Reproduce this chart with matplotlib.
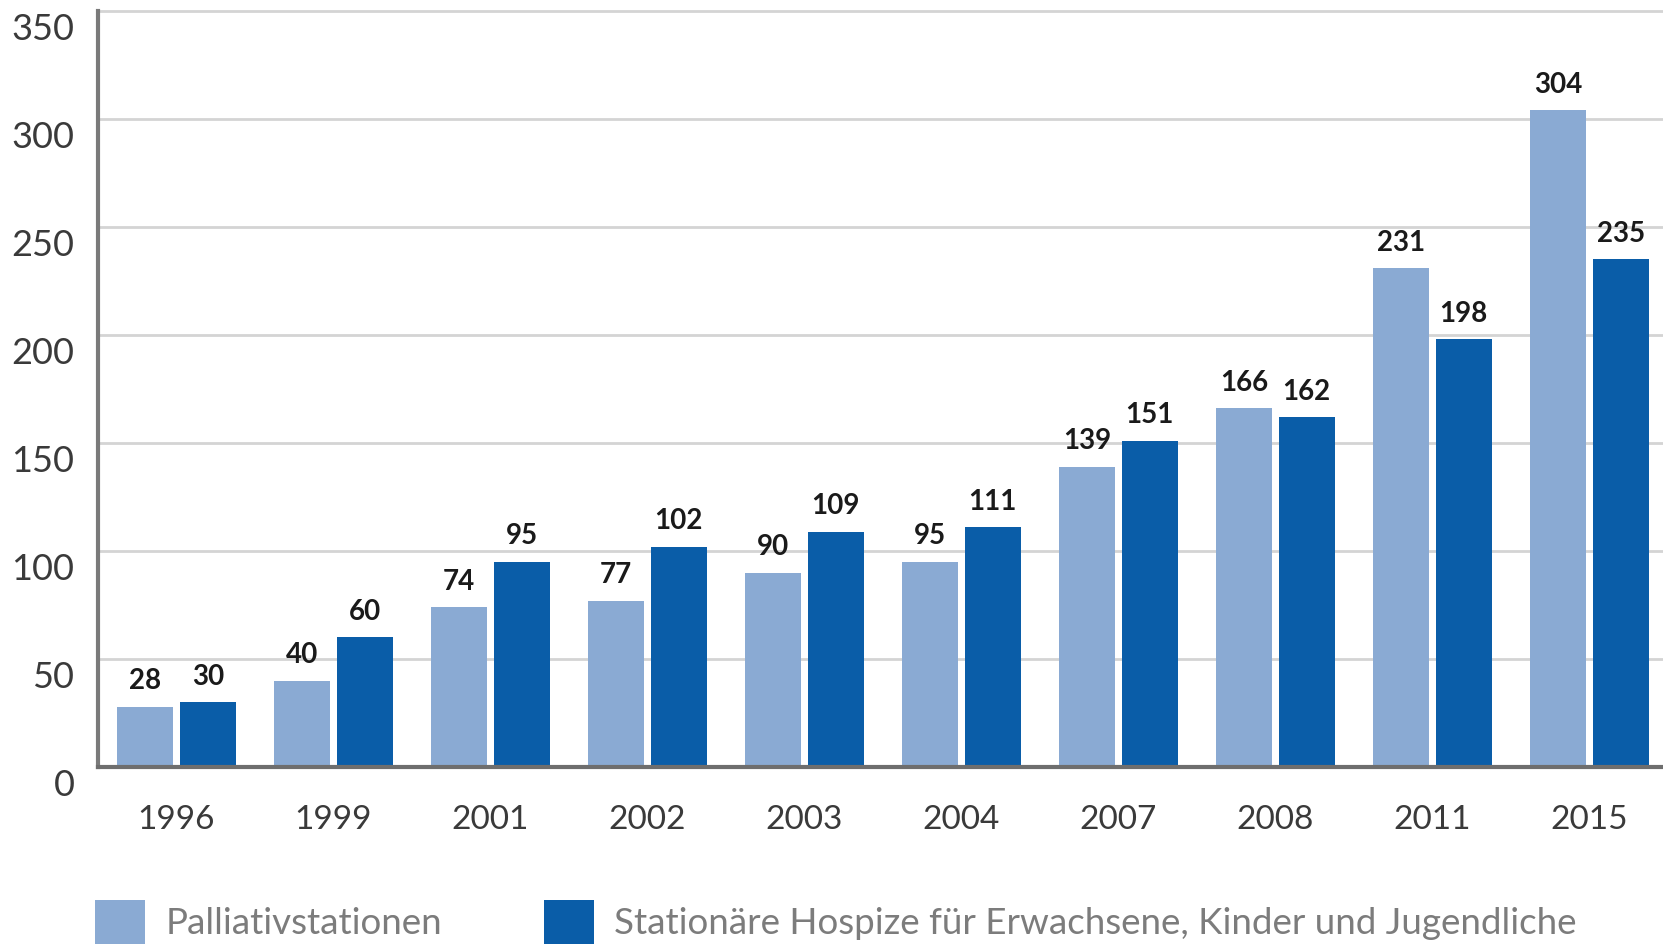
import numpy as np
import matplotlib
matplotlib.use("Agg")
import matplotlib.pyplot as plt
from matplotlib import transforms

# data
years = ["1996", "1999", "2001", "2002", "2003", "2004", "2007", "2008", "2011", "2015"]
palliativ = [28, 40, 74, 77, 90, 95, 139, 166, 231, 304]
hospize = [30, 60, 95, 102, 109, 111, 151, 162, 198, 235]
series_labels = [
    "Palliativstationen",
    "Stationäre Hospize für Erwachsene, Kinder und Jugendliche",
]
yticks = [0, 50, 100, 150, 200, 250, 300, 350]

LIGHT = "#8AAAD3"
DARK = "#0A5DA8"
FONT = ["Lato", "DejaVu Sans"]

plt.rcParams["font.family"] = FONT

fig = plt.figure(figsize=(16.63, 9.47), dpi=100)
ax = fig.add_axes([98 / 1663, 1 - 767 / 947, 1 - 98 / 1663, (767 - 11) / 947])

x = np.arange(len(years))
w = 0.357
off = 0.2
b1 = ax.bar(x - off, palliativ, w, color=LIGHT, zorder=3, label=series_labels[0])
b2 = ax.bar(x + off, hospize, w, color=DARK, zorder=3, label=series_labels[1])

for bars in (b1, b2):
    ax.bar_label(bars, padding=9, fontsize=20, fontweight="bold", color="#1a1a1a")

ax.set_xlim(-0.5, 9.47)
ax.set_ylim(0, 350)
ax.set_yticks(yticks)
ax.set_xticks(x)
ax.set_xticklabels(years)

ax.grid(axis="y", color="#d4d4d4", linewidth=2, zorder=0, clip_on=False)
for s in ("top", "right"):
    ax.spines[s].set_visible(False)
ax.spines["left"].set_color("#7a7a7a")
ax.spines["left"].set_linewidth(3)
ax.spines["bottom"].set_color("#6e6e6e")
ax.spines["bottom"].set_linewidth(3)
ax.spines["bottom"].set_zorder(4)

ax.tick_params(axis="y", length=0, pad=17, labelsize=26, labelcolor="#3a3a3a")
ax.tick_params(axis="x", length=0, pad=27, labelsize=24, labelcolor="#3a3a3a")
for lab in ax.get_yticklabels():
    lab.set_transform(lab.get_transform()
                      + transforms.ScaledTranslation(0, -15 / 100, fig.dpi_scale_trans))

leg = fig.legend(
    handles=[b1, b2],
    labels=series_labels,
    loc="lower left",
    bbox_to_anchor=(95 / 1663, 3 / 947),
    ncol=2,
    frameon=False,
    fontsize=26.5,
    handlelength=1.36,
    handleheight=1.48,
    handletextpad=0.56,
    columnspacing=2.75,
    borderpad=0,
    borderaxespad=0,
)
for t in leg.get_texts():
    t.set_color("#7c7c7c")

fig.savefig("out.png", dpi=100)
